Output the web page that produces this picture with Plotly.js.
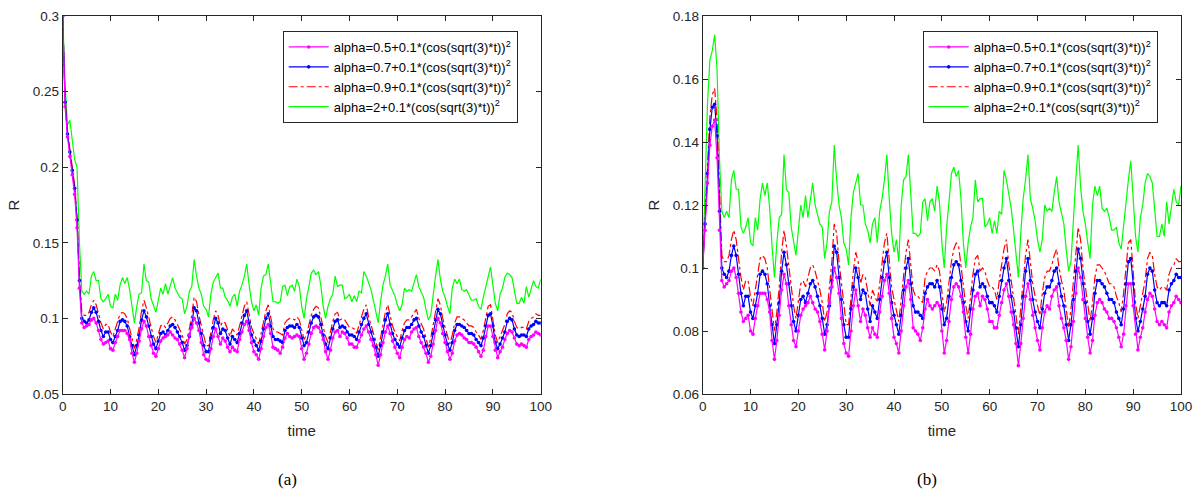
<!DOCTYPE html>
<html>
<head>
<meta charset="utf-8">
<script src="https://cdn.plot.ly/plotly-3.0.1.min.js"></script>
<style>
  html, body { margin: 0; padding: 0; background: #fff; }
  #chart { width: 1195px; height: 491px; }
</style>
</head>
<body>
<div id="chart"></div>
<script>
// ---- data ----
var timeStep = 0.5;   // sample spacing of the arrays below, t = 0 ... 100

var seriesNames = [
  "alpha=0.5+0.1*(cos(sqrt(3)*t))<sup>2</sup>",
  "alpha=0.7+0.1*(cos(sqrt(3)*t))<sup>2</sup>",
  "alpha=0.9+0.1*(cos(sqrt(3)*t))<sup>2</sup>",
  "alpha=2+0.1*(cos(sqrt(3)*t))<sup>2</sup>"
];

// panel (b): full series, t = 0 ... 100
var magentaB = [
0.100,0.112,0.127,0.139,0.145,0.147,0.135,0.112,0.096,0.094,
0.095,0.096,0.099,0.100,0.097,0.092,0.086,0.083,0.084,0.085,
0.080,0.079,0.084,0.088,0.092,0.092,0.092,0.090,0.086,0.077,
0.071,0.077,0.085,0.093,0.098,0.095,0.088,0.082,0.077,0.075,
0.080,0.085,0.087,0.088,0.089,0.091,0.089,0.087,0.086,0.083,
0.079,0.074,0.080,0.089,0.094,0.100,0.097,0.092,0.084,0.076,
0.073,0.072,0.080,0.088,0.093,0.088,0.083,0.087,0.085,0.081,
0.078,0.081,0.079,0.078,0.086,0.091,0.096,0.098,0.092,0.084,
0.078,0.076,0.073,0.080,0.088,0.094,0.096,0.090,0.081,0.080,
0.079,0.077,0.081,0.087,0.090,0.088,0.087,0.088,0.089,0.088,
0.080,0.073,0.077,0.083,0.090,0.094,0.095,0.094,0.091,0.086,
0.078,0.073,0.079,0.087,0.091,0.092,0.088,0.091,0.090,0.087,
0.083,0.083,0.081,0.081,0.085,0.089,0.093,0.095,0.091,0.086,
0.082,0.076,0.069,0.076,0.084,0.091,0.095,0.090,0.085,0.081,
0.077,0.074,0.081,0.086,0.088,0.087,0.091,0.093,0.094,0.088,
0.084,0.081,0.077,0.071,0.075,0.083,0.092,0.100,0.097,0.090,
0.084,0.078,0.073,0.077,0.085,0.089,0.090,0.089,0.087,0.086,
0.084,0.084,0.083,0.081,0.078,0.075,0.079,0.088,0.095,0.095,
0.088,0.079,0.074,0.078,0.081,0.086,0.090,0.092,0.091,0.087,
0.083,0.082,0.083,0.082,0.081,0.086,0.088,0.089,0.091,0.090,
0.089];

var blueB = [
0.100,0.114,0.130,0.144,0.151,0.152,0.142,0.118,0.100,0.098,
0.097,0.099,0.104,0.107,0.104,0.098,0.092,0.088,0.091,0.091,
0.086,0.084,0.088,0.092,0.098,0.099,0.098,0.095,0.088,0.082,
0.076,0.082,0.089,0.099,0.105,0.101,0.095,0.088,0.083,0.080,
0.085,0.090,0.091,0.089,0.092,0.095,0.096,0.094,0.091,0.088,
0.084,0.079,0.082,0.088,0.096,0.107,0.105,0.097,0.090,0.082,
0.078,0.078,0.087,0.094,0.100,0.097,0.090,0.093,0.092,0.087,
0.083,0.088,0.086,0.084,0.090,0.097,0.102,0.105,0.097,0.089,
0.085,0.082,0.079,0.085,0.093,0.100,0.103,0.095,0.088,0.086,
0.086,0.085,0.084,0.092,0.094,0.095,0.095,0.094,0.096,0.094,
0.087,0.082,0.084,0.091,0.097,0.101,0.102,0.101,0.096,0.089,
0.083,0.080,0.087,0.093,0.098,0.099,0.094,0.095,0.094,0.091,
0.089,0.089,0.088,0.086,0.091,0.096,0.100,0.103,0.096,0.091,
0.086,0.081,0.075,0.082,0.091,0.099,0.103,0.096,0.090,0.086,
0.083,0.081,0.087,0.092,0.094,0.094,0.096,0.099,0.100,0.095,
0.091,0.088,0.082,0.077,0.082,0.090,0.099,0.106,0.103,0.095,
0.089,0.083,0.079,0.084,0.092,0.096,0.096,0.095,0.094,0.092,
0.090,0.090,0.089,0.086,0.084,0.082,0.087,0.095,0.102,0.103,
0.095,0.084,0.080,0.083,0.087,0.091,0.098,0.100,0.099,0.093,
0.089,0.088,0.089,0.089,0.088,0.093,0.095,0.096,0.098,0.097,
0.097];

var redB = [
0.100,0.115,0.133,0.148,0.155,0.157,0.147,0.122,0.104,0.102,
0.102,0.104,0.109,0.112,0.109,0.103,0.097,0.093,0.096,0.096,
0.091,0.088,0.093,0.097,0.103,0.104,0.103,0.100,0.093,0.086,
0.080,0.086,0.094,0.105,0.112,0.107,0.100,0.093,0.088,0.084,
0.089,0.095,0.096,0.094,0.097,0.100,0.101,0.099,0.096,0.093,
0.089,0.083,0.086,0.093,0.102,0.114,0.111,0.102,0.095,0.087,
0.082,0.082,0.092,0.099,0.105,0.102,0.095,0.098,0.097,0.092,
0.088,0.093,0.091,0.089,0.095,0.102,0.108,0.111,0.102,0.094,
0.090,0.086,0.083,0.090,0.098,0.105,0.109,0.100,0.093,0.091,
0.091,0.090,0.089,0.097,0.099,0.100,0.100,0.099,0.101,0.099,
0.092,0.086,0.089,0.096,0.102,0.106,0.108,0.107,0.101,0.094,
0.088,0.084,0.092,0.098,0.103,0.104,0.099,0.100,0.099,0.096,
0.094,0.094,0.093,0.090,0.096,0.101,0.106,0.109,0.101,0.096,
0.091,0.085,0.079,0.087,0.096,0.104,0.109,0.101,0.095,0.091,
0.088,0.085,0.092,0.097,0.099,0.099,0.101,0.104,0.106,0.100,
0.096,0.093,0.087,0.081,0.087,0.095,0.105,0.113,0.109,0.100,
0.094,0.088,0.083,0.089,0.097,0.101,0.101,0.100,0.099,0.097,
0.095,0.095,0.094,0.091,0.089,0.086,0.092,0.100,0.108,0.109,
0.100,0.089,0.084,0.088,0.092,0.096,0.103,0.105,0.104,0.098,
0.094,0.093,0.094,0.094,0.093,0.098,0.100,0.101,0.103,0.102,
0.102];

var greenB = [
0.100,0.126,0.152,0.166,0.169,0.174,0.163,0.135,0.118,0.116,
0.118,0.116,0.128,0.131,0.125,0.125,0.113,0.111,0.113,0.116,
0.108,0.107,0.116,0.112,0.122,0.127,0.123,0.127,0.119,0.107,
0.097,0.108,0.116,0.117,0.136,0.125,0.124,0.113,0.108,0.104,
0.112,0.120,0.116,0.123,0.116,0.121,0.127,0.120,0.117,0.114,
0.113,0.103,0.108,0.118,0.121,0.139,0.128,0.120,0.116,0.108,
0.106,0.101,0.116,0.124,0.127,0.130,0.120,0.120,0.114,0.112,
0.108,0.114,0.116,0.108,0.118,0.122,0.128,0.136,0.122,0.111,
0.105,0.109,0.102,0.120,0.128,0.129,0.136,0.123,0.111,0.111,
0.110,0.111,0.121,0.122,0.115,0.121,0.122,0.118,0.126,0.121,
0.108,0.100,0.113,0.121,0.130,0.132,0.129,0.131,0.122,0.108,
0.100,0.108,0.113,0.116,0.128,0.121,0.122,0.122,0.113,0.114,
0.116,0.111,0.115,0.111,0.118,0.117,0.131,0.128,0.124,0.119,
0.112,0.105,0.097,0.111,0.122,0.128,0.136,0.122,0.119,0.115,
0.109,0.105,0.109,0.120,0.118,0.119,0.118,0.124,0.129,0.121,
0.117,0.114,0.106,0.099,0.102,0.117,0.128,0.139,0.126,0.118,
0.114,0.108,0.103,0.120,0.126,0.123,0.126,0.119,0.118,0.119,
0.116,0.112,0.112,0.113,0.108,0.106,0.114,0.121,0.128,0.134,
0.122,0.110,0.105,0.116,0.120,0.127,0.130,0.129,0.127,0.117,
0.110,0.110,0.114,0.110,0.121,0.114,0.120,0.125,0.121,0.120,
0.126];

// panel (a): different start (t = 0 ... 4), afterwards the same trajectories as in (b)
var headMagentaA = [0.300,0.240,0.220,0.207,0.195,0.182,0.160,0.120,0.097];
var headBlueA    = [0.300,0.243,0.222,0.210,0.198,0.186,0.165,0.125,0.100];
var headRedA     = [0.300,0.245,0.224,0.212,0.200,0.188,0.167,0.128,0.104];
var headGreenA   = [0.300,0.255,0.228,0.231,0.218,0.205,0.200,0.150,0.118];

var xTicks = [0,10,20,30,40,50,60,70,80,90,100];
var yTicksA = [0.05,0.1,0.15,0.2,0.25,0.3];
var yTicksB = [0.06,0.08,0.1,0.12,0.14,0.16,0.18];

// ---- build ----
function joinHead(head, full){ return head.concat(full.slice(head.length)); }
var tGrid = magentaB.map(function(_, i){ return i * timeStep; });

var colors = ["#ff00ff", "#0000ff", "#ff0000", "#00ff00"];
var dashes = ["solid", "solid", "dashdot", "solid"];
var withMarkers = [true, true, false, false];

var panelA = [joinHead(headMagentaA, magentaB), joinHead(headBlueA, blueB),
              joinHead(headRedA, redB), joinHead(headGreenA, greenB)];
var panelB = [magentaB, blueB, redB, greenB];

var traces = [];
function addPanel(data, xa, ya, leg){
  var order = [3, 2, 1, 0];
  order.forEach(function(k){
    var tr = {
      x: tGrid, y: data[k], xaxis: xa, yaxis: ya, legend: leg,
      name: seriesNames[k], type: "scatter",
      mode: withMarkers[k] ? "lines+markers" : "lines",
      line: {color: colors[k], width: 1.2, dash: dashes[k]},
      legendrank: k + 1
    };
    if (withMarkers[k]) tr.marker = {color: colors[k], size: 3.6, symbol: "circle"};
    traces.push(tr);
  });
}
addPanel(panelA, "x", "y", "legend");
addPanel(panelB, "x2", "y2", "legend2");

var axCol = "#262626";
var tickFont = {family: "Liberation Sans, Arial, sans-serif", size: 13.5, color: axCol};
var titleFont = {family: "Liberation Sans, Arial, sans-serif", size: 15, color: axCol};
function xAxis(domain, anchor){
  return {domain: domain, anchor: anchor, range: [0, 100], tickmode: "array",
    tickvals: xTicks, ticks: "inside", ticklen: 5, tickcolor: axCol,
    showline: true, linecolor: axCol, linewidth: 1, mirror: "ticks",
    showgrid: false, zeroline: false, tickfont: tickFont,
    title: {text: "time", font: titleFont, standoff: 12}};
}
function yAxis(domain, anchor, range, ticks){
  return {domain: domain, anchor: anchor, range: range, tickmode: "array",
    tickvals: ticks, ticks: "inside", ticklen: 5, tickcolor: axCol,
    showline: true, linecolor: axCol, linewidth: 1, mirror: "ticks",
    showgrid: false, zeroline: false, tickfont: tickFont,
    title: {text: "R", font: titleFont, standoff: 9}};
}
var yDom = [(491-394)/491, (491-16)/491];
var legStyle = {bgcolor: "#ffffff", bordercolor: axCol, borderwidth: 1,
  font: {family: "Liberation Sans, Arial, sans-serif", size: 13, color: "#000"},
  xanchor: "left", yanchor: "top", itemwidth: 40, tracegroupgap: 0,
  traceorder: "normal"};

var layout = {
  width: 1195, height: 491,
  margin: {l: 0, r: 0, t: 0, b: 0},
  paper_bgcolor: "#ffffff", plot_bgcolor: "#ffffff",
  showlegend: true,
  xaxis: xAxis([62.7/1195, 540.7/1195], "y"),
  yaxis: yAxis(yDom, "x", [0.05, 0.3], yTicksA),
  xaxis2: xAxis([702.7/1195, 1181/1195], "y2"),
  yaxis2: yAxis(yDom, "x2", [0.06, 0.18], yTicksB),
  legend: Object.assign({x: 282.7/1195, y: (491-31)/491}, legStyle),
  legend2: Object.assign({x: 922.7/1195, y: (491-31)/491}, legStyle),
  annotations: [
    {text: "(a)", xref: "paper", yref: "paper", x: 287/1195, y: (491-479)/491,
     showarrow: false, xanchor: "center", yanchor: "middle",
     font: {family: "Liberation Serif, Times New Roman, serif", size: 17, color: "#000"}},
    {text: "(b)", xref: "paper", yref: "paper", x: 927/1195, y: (491-479)/491,
     showarrow: false, xanchor: "center", yanchor: "middle",
     font: {family: "Liberation Serif, Times New Roman, serif", size: 17, color: "#000"}}
  ]
};

Plotly.newPlot("chart", traces, layout, {staticPlot: true, displayModeBar: false});
</script>
</body>
</html>
